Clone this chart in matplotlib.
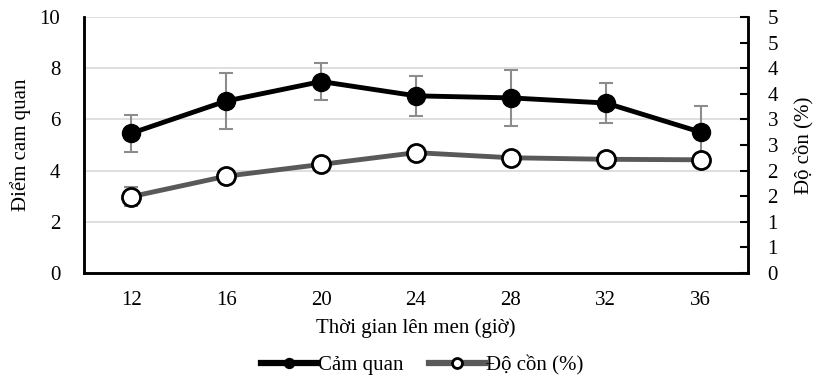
import numpy as np
import matplotlib.pyplot as plt
from matplotlib.ticker import FuncFormatter

plt.rcParams['font.family'] = ['Liberation Serif', 'DejaVu Serif']

hours = ['12', '16', '20', '24', '28', '32', '36']
cam_quan = [5.46, 6.72, 7.48, 6.92, 6.84, 6.64, 5.50]
cam_quan_err = [0.73, 1.09, 0.74, 0.78, 1.10, 0.80, 1.02]
do_con = [1.49, 1.89, 2.12, 2.35, 2.25, 2.22, 2.21]
do_con_err = [0.19, 0.08, 0.10, 0.10, 0.06, 0.06, 0.06]

x = np.arange(len(hours))
fs = 15

fig = plt.figure(figsize=(8.15, 3.79), dpi=100)
ax = fig.add_axes([0.103, 0.280, 0.815, 0.675])
ax2 = ax.twinx()

ax.errorbar(x, cam_quan, yerr=cam_quan_err, fmt='none', ecolor='#8c8c8c',
            elinewidth=1.5, capsize=5, capthick=1.5, zorder=2)
l1, = ax.plot(x, cam_quan, color='black', lw=3.5, marker='o', ms=13,
              mfc='black', mec='black', label='Cảm quan', zorder=3)

ax2.errorbar(x, do_con, yerr=do_con_err, fmt='none', ecolor='#8c8c8c',
             elinewidth=1.5, capsize=5, capthick=1.5, zorder=2)
l2, = ax2.plot(x, do_con, color='#595959', lw=3.5, marker='o', ms=13,
               mfc='white', mec='black', mew=2, label='Độ cồn (%)', zorder=3)

ax.set_xlim(-0.5, len(hours) - 0.5)
ax.set_ylim(0, 10)
ax.set_yticks(np.arange(0, 11, 2))
ax2.set_ylim(0, 5)
ax2.set_yticks(np.arange(0, 5.01, 0.5))
# whole-number labels on half steps, rounded half up
ax2.yaxis.set_major_formatter(FuncFormatter(lambda v, p: f"{int(np.floor(v + 0.5))}"))

ax.set_xticks(x)
ax.set_xticklabels(hours)
ax.grid(axis='y', color='#d9d9d9', lw=1.2)
ax.set_axisbelow(True)

for a in (ax, ax2):
    a.spines['top'].set_visible(False)
    for s in ('left', 'right', 'bottom'):
        a.spines[s].set_linewidth(1.8)
        a.spines[s].set_color('black')

ax.tick_params(axis='x', length=0, labelsize=fs, pad=13)
ax.tick_params(axis='y', length=0, labelsize=fs, pad=17)
ax2.tick_params(axis='y', direction='in', length=6, width=1.5, labelsize=fs, pad=14)

ax.set_xlabel('Thời gian lên men (giờ)', fontsize=fs, labelpad=6)
ax.set_ylabel('Điểm cam quan', fontsize=fs, labelpad=6)
ax2.set_ylabel('Độ cồn (%)', fontsize=fs, labelpad=12)

leg = fig.legend(handles=[l1, l2], loc='lower center', bbox_to_anchor=(0.518, -0.04),
                 ncol=2, frameon=False, fontsize=fs, handlelength=2.7,
                 handletextpad=0.05, columnspacing=1.2, markerscale=0.55)
for h in leg.legend_handles:
    h.set_linewidth(4.5)

fig.savefig('out.png', dpi=100)
